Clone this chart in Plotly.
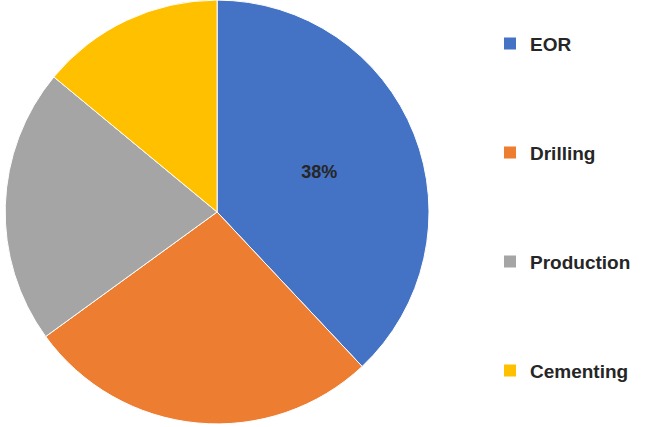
import plotly.graph_objects as go

labels = ["EOR", "Drilling", "Production", "Cementing"]
values = [38, 27, 21, 14]
colors = ["#4472C4", "#ED7D31", "#A5A5A5", "#FFC000"]
shown_labels = ["%{percent:.0%}", "", "", ""]

fig = go.Figure()
fig.add_trace(go.Pie(
    labels=labels, values=values, sort=False, direction="clockwise", rotation=0,
    marker=dict(colors=colors, line=dict(color="white", width=1)),
    texttemplate=shown_labels, textposition="inside", insidetextorientation="horizontal",
    textfont=dict(family="Liberation Sans", size=18, color="#262626", weight="bold"),
    domain=dict(x=[0.008, 0.661], y=[0.007, 1.0]),
    showlegend=False, hoverinfo="label+percent",
))
for i, (lab, col) in enumerate(zip(labels, colors)):
    fig.add_trace(go.Scatter(
        x=[None], y=[None], mode="markers", name=lab,
        marker=dict(symbol="square", size=12, color=col),
        legendgroup=lab, showlegend=True,
    ))

fig.update_layout(
    width=649, height=427,
    margin=dict(l=0, r=0, t=0, b=0),
    paper_bgcolor="white", plot_bgcolor="white",
    xaxis=dict(visible=False), yaxis=dict(visible=False),
    legend=dict(
        x=0.755, y=0.942, xanchor="left", yanchor="top",
        tracegroupgap=81.3,
        font=dict(family="Liberation Sans", size=19, color="#262626", weight="bold"),
        itemclick=False,
    ),
)
fig.write_html("out.html", config={"displayModeBar": False},
               post_script="document.body.style.margin='0px';")
